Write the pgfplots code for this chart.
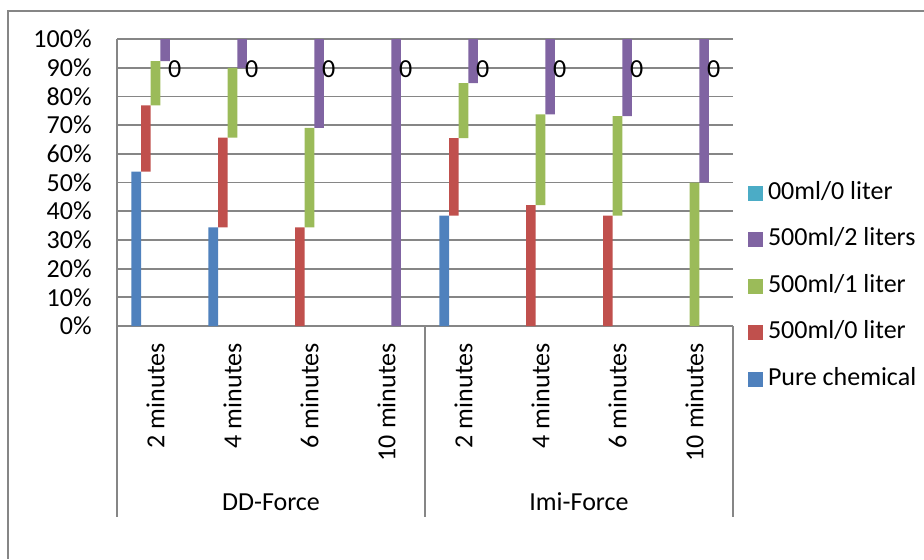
\documentclass[border=0pt]{standalone}
\usepackage{fontspec}
\setmainfont{Carlito}
\usepackage{pgfplots}
\usepackage{pgfplotstable}
\pgfplotsset{compat=1.18}

\definecolor{xlblue}{HTML}{4F81BD}
\definecolor{xlred}{HTML}{C0504D}
\definecolor{xlgreen}{HTML}{9BBB59}
\definecolor{xlpurple}{HTML}{8064A2}
\definecolor{xlteal}{HTML}{4BACC6}
\definecolor{linegray}{RGB}{134,134,134}

% share of each treatment (percent), categories 0-3 DD-Force, 4-7 Imi-Force
\pgfplotstableread{
x pure ml0 ml1 ml2 zero top
0 53.8 23.1 15.4  7.7 0 100
1 34.4 31.2 24.3 10.1 0 100
2  0.0 34.4 34.6 31.0 0 100
3  0.0  0.0  0.0 100  0 100
4 38.5 27.0 19.1 15.4 0 100
5  0.0 42.1 31.6 26.3 0 100
6  0.0 38.5 34.6 26.9 0 100
7  0.0  0.0 50.0 50.0 0 100
}\datatab

\pgfplotsset{
  sq/.style={legend image code/.code={\fill[##1] (0pt,-3.75pt) rectangle (7.5pt,3.75pt); \path (10pt,0pt);}},
}

\begin{document}
\begin{tikzpicture}[font=\fontsize{13}{15.6}\selectfont]
\path[use as bounding box] (0,0) rectangle (462pt,279.5pt);
\draw[linegray, line width=0.75pt] (4pt,0) -- (4pt,274pt) -- (462pt,274pt);
\begin{axis}[
  at={(58.5pt,116.5pt)}, anchor=south west,
  scale only axis, width=308pt, height=143.5pt,
  ybar stacked, bar width=0.125,
  xmin=-0.5, xmax=7.5, ymin=0, ymax=100,
  clip=false,
  axis lines*=left,
  axis line style={linegray, line width=0.9pt, -},
  ymajorgrids, grid style={linegray, line width=0.9pt},
  major tick length=0pt,
  ytick={0,10,...,100},
  yticklabel={\pgfmathprintnumber{\tick}\%},
  /pgf/number format/assume math mode=true,
  yticklabel style={anchor=east, inner sep=0pt, xshift=-12.5pt},
  xtick={0,...,7},
  xticklabels={2 minutes,4 minutes,6 minutes,10 minutes,2 minutes,4 minutes,6 minutes,10 minutes},
  xticklabel style={rotate=90, anchor=east, inner sep=0pt, xshift=-8.5pt},
  legend style={at={(1.0244,0.505)}, anchor=north west, draw=none, fill=none,
    inner sep=0pt, outer sep=0pt, row sep=11.3pt,
    nodes={inner sep=0pt, text height=9pt, text depth=3pt}},
  legend cell align=left,
  reverse legend,
]
\addplot[fill=xlblue, draw=none, bar shift=-0.25, sq] table[x=x,y=pure]{\datatab};
\addplot[fill=xlred, draw=none, bar shift=-0.125, sq] table[x=x,y=ml0]{\datatab};
\addplot[fill=xlgreen, draw=none, bar shift=0, sq] table[x=x,y=ml1]{\datatab};
\addplot[fill=xlpurple, draw=none, bar shift=0.125, sq] table[x=x,y=ml2]{\datatab};
\addplot[fill=xlteal, draw=none, bar shift=0.25, sq] table[x=x,y=zero]{\datatab};
% data labels of the zero series, at the top of each stack
\addplot[forget plot, stack plots=false, only marks, draw=none,
  mark=text, text mark={0}, text mark as node=true,
  text mark style={font=\fontsize{13}{15.6}\selectfont, text=black, inner sep=0pt, anchor=center},
  mark options={xshift=9.6pt, yshift=-15pt}]
  table[x=x,y=top]{\datatab};
\legend{Pure chemical,500ml/0 liter,500ml/1 liter,500ml/2 liters,00ml/0 liter}
\foreach \xx in {-0.5,3.5,7.5}{
  \edef\tmp{\noexpand\draw[linegray, line width=0.75pt] (axis cs:\xx,0) -- ++(0pt,-95.5pt);}\tmp
}
\node at (axis cs:1.5,0) [yshift=-88pt] {DD-Force};
\node at (axis cs:5.5,0) [yshift=-88pt] {Imi-Force};
\end{axis}
\end{tikzpicture}
\end{document}
